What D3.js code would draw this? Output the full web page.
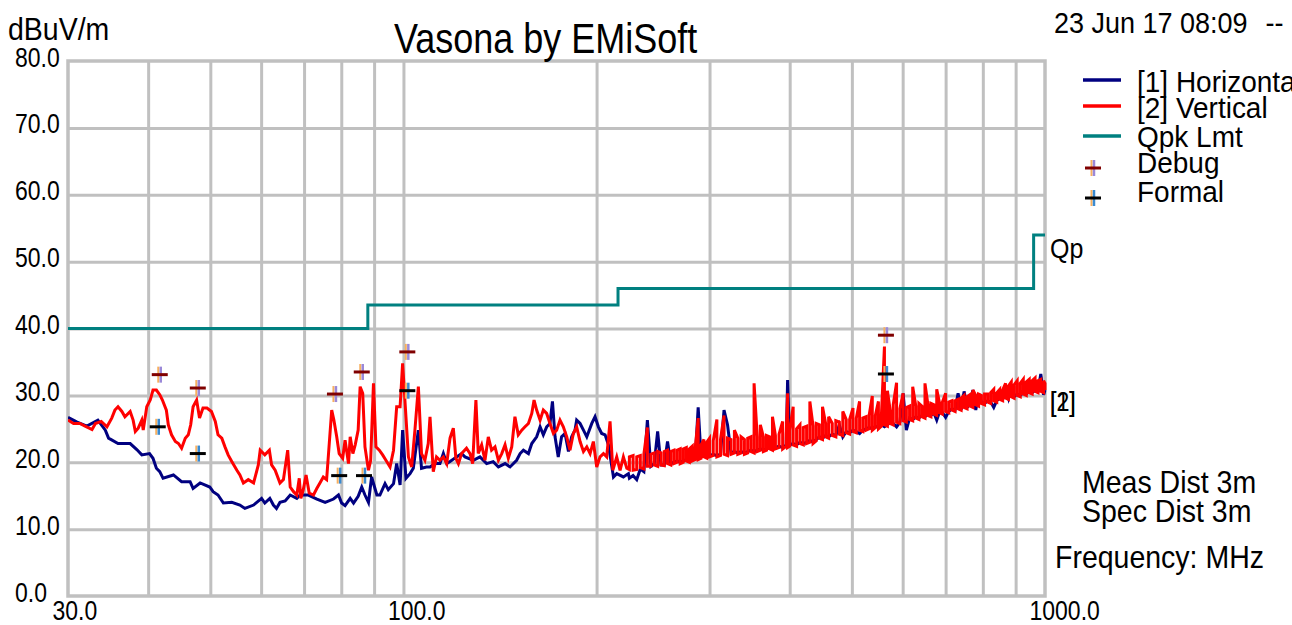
<!DOCTYPE html>
<html>
<head>
<meta charset="utf-8">
<script src="https://cdn.jsdelivr.net/npm/d3@7"></script>
<style>
  body { margin: 0; background: #fff; }
  svg text { font-family: "Liberation Sans", Arial, sans-serif; fill: #000; }
</style>
</head>
<body>
<svg id="chart" width="1292" height="625"></svg>
<script>
// ---- data (MHz, dBuV/m) ----
const xGridTicks = [40, 50, 60, 70, 80, 90, 100, 200, 300, 400, 500, 600, 700, 800, 900];
const xLabelTicks = [30, 100, 1000];
const yTicks = [0, 10, 20, 30, 40, 50, 60, 70, 80];

// FCC class B quasi-peak limit, step after each frequency
const limitSteps = [[30, 40], [88, 43.5], [216, 46], [960, 54], [1000, 54]];

// horizontal trace, 30 - 225 MHz
const horizLow = [
  [30,26.7],[31,26.0],[32.1,25.4],[33.4,26.3],[34.3,24.8],[34.7,23.6],[35.9,22.8],[37.5,22.8],[38.4,21.9],[39.1,21.1],
  [40.2,21.3],[40.7,20.6],[41.2,19.1],[41.7,18.6],[42.2,17.6],[43.8,18.1],[45.1,17.1],[46.5,17.1],[47.0,16.1],[48.2,16.9],
  [49.9,16.3],[50.5,15.6],[51.4,15.1],[52.4,13.9],[54.0,14.0],[55.6,13.6],[56.6,13.1],[58.4,13.6],[60.1,14.6],[60.8,13.9],
  [61.9,14.6],[62.7,13.6],[63.4,13.1],[64.2,14.0],[65.4,14.2],[66.6,15.1],[68.2,14.6],[69.0,15.1],[71.1,15.1],[73.3,14.5],
  [75.5,14.0],[77.8,14.5],[79.2,15.1],[80.1,13.9],[81.1,13.5],[82.6,14.6],[83.6,13.9],[85.0,14.9],[86.1,16.3],[87.1,15.1],
  [88.2,14.0],[89.2,17.8],[90.9,15.1],[91.9,15.1],[93.6,16.8],[94.7,15.9],[96.5,16.8],[97.6,19.8],
  [98.8,16.6],[99.7,24.8],[100.9,17.6],[102.4,18.3],[103.6,19.1],[105.5,24.8],[106.7,19.1],[108.6,19.3],[110.0,19.3],
  [112.0,19.8],[114.0,19.8],[115.4,21.3],[116.8,19.8],[118.2,20.1],[121.0,20.8],[123.2,21.3],[124.7,20.8],[128.5,20.3],
  [131.6,20.8],[134.8,19.8],[138.0,20.1],[140.6,19.3],[144.0,19.8],[146.6,19.3],[150.1,20.3],[152.0,21.3],[153.8,21.8],
  [156.6,21.3],[158.5,22.8],[161.3,23.8],[163.3,25.3],[165.2,24.1],[167.2,25.3],[169.2,25.8],[170.7,29.1],[172.3,23.8],
  [174.3,20.8],[176.4,23.8],[178.6,24.3],[180.8,21.6],[182.9,23.8],[185.1,24.8],[186.2,26.3],[188.5,25.8],[190.8,24.8],
  [193.1,23.8],[196.6,25.8],[198.9,26.8],[201.3,25.3],[203.7,24.3],[206.2,24.1],[208.7,22.6],[212.5,17.8],[215.0,18.3],
  [220.2,17.8],[224.2,18.3]
];

// vertical trace, 30 - 225 MHz
const vertLow = [
  [30,26.3],[30.6,25.8],[31.3,25.8],[31.9,25.4],[32.7,24.9],[33.1,25.8],[33.8,26.1],[34.5,25.3],[35.1,26.6],[35.5,27.8],
  [35.9,28.3],[36.4,27.6],[36.8,26.8],[37.5,27.6],[37.9,26.3],[38.2,24.6],[38.6,25.1],[39.1,26.3],[39.3,24.8],[39.8,28.3],
  [40.3,29.3],[40.7,30.8],[41.2,30.8],[41.7,30.1],[42.1,29.3],[42.7,27.8],[43.0,25.6],[43.5,24.1],[44.1,23.1],[44.6,22.8],
  [45.1,22.1],[45.7,23.6],[46.2,24.1],[46.6,25.6],[47.0,28.3],[47.6,29.3],[48.1,26.6],[48.7,28.1],[49.4,28.1],[50.2,27.6],
  [50.9,26.1],[51.4,24.1],[52.1,23.6],[52.7,22.3],[53.3,21.1],[54.0,20.1],[55.0,18.8],[55.6,18.1],[56.3,16.9],[57.3,17.4],
  [58.4,16.9],[59.4,19.6],[59.8,21.8],[60.8,21.1],[61.8,21.8],[62.3,19.6],[63.1,18.8],[64.2,16.9],[65.0,17.4],[66.0,21.8],
  [66.6,16.3],[67.4,15.6],[68.2,15.1],[68.8,17.6],[69.2,14.6],[69.8,15.9],[70.5,18.1],[71.3,15.4],[72.4,15.1],[73.3,16.1],
  [74.1,16.9],[75.0,17.8],[75.9,17.4],[77.3,27.8],[77.9,26.3],[78.7,23.8],[79.4,21.3],[80.4,20.6],[81.1,23.3],[82.1,19.8],
  [82.6,23.8],[83.4,21.3],[84.1,22.6],[85.0,24.8],[85.6,31.3],[86.4,30.3],[87.1,22.3],[88.2,18.8],[88.9,20.3],[89.8,31.8],
  [90.6,22.3],[91.7,21.8],[92.8,21.1],[93.9,20.3],[95.3,19.3],[96.5,21.8],[97.6,28.3],
  [98.8,28.3],[99.7,34.8],[100.9,26.8],[101.8,20.8],[103.0,19.3],[104.2,24.8],[105.5,31.3],[106.7,21.3],[108.0,20.3],
  [109.3,22.8],[110.0,26.8],[111.3,18.6],[112.6,20.8],[114.0,20.3],[115.4,20.8],[116.8,19.8],[118.2,23.6],[119.6,25.1],
  [120.7,20.6],[121.8,19.8],[123.2,21.3],[125.4,22.1],[127.0,21.3],[128.2,19.8],[129.7,29.3],[130.8,21.3],[132.4,22.6],
  [134.0,20.3],[135.6,23.8],[137.2,21.8],[138.9,22.3],[140.6,20.3],[142.3,21.3],[144.0,22.6],[145.7,20.6],[147.5,22.3],
  [149.2,26.8],[151.0,24.1],[152.9,24.8],[154.7,25.3],[156.6,25.8],[158.5,27.3],[159.8,29.3],[161.3,27.8],[163.3,26.3],
  [165.2,27.8],[167.2,27.3],[169.2,25.8],[171.3,24.3],[173.3,24.8],[175.4,26.3],[177.5,25.3],[179.7,23.8],[181.8,21.8],
  [184.0,24.3],[186.2,25.3],[188.5,23.1],[190.8,21.6],[193.1,22.3],[195.4,21.3],[197.7,23.1],[200.1,19.3],[202.5,20.8],
  [205.0,21.3],[207.4,20.8],[209.9,26.1],[212.0,18.8],[215.0,20.8],[217.6,18.8],[220.2,20.8],[222.9,19.1]
];

// dense sweep 225 - 1000 MHz, shared frequencies
const sweepFreq = [
  225,228,231,234,237,240,243,246,249,252,255,258,261,264,267,270,273,276,279,282,
  285,288,291,294,297,300,304,308,312,316,320,324,328,332,336,340,344,348,352,356,
  360,364,368,372,376,380,385,390,395,397,400,405,410,415,420,425,430,435,440,445,
  450,455,460,466,472,478,484,490,496,502,508,514,520,526,532,538,544,550,556,562,
  568,574,580,587,594,601,608,615,622,629,636,643,650,657,664,671,678,685,692,700,
  708,716,724,732,740,748,756,764,772,780,788,796,805,814,823,832,841,850,859,868,
  877,886,895,905,915,925,935,945,955,965,975,985,995,1000
];
// vertical trace: bottom and top of the drawn band at each sweep point
const vertSweepLo = [
  18.9,18.8,18.9,19.2,19.0,19.4,19.4,19.6,19.4,19.6,19.5,19.8,19.6,19.8,20.0,19.8,20.0,20.2,20.0,20.2,
  20.4,20.4,20.6,20.8,20.6,20.8,21.0,20.8,21.0,21.2,21.0,21.2,21.4,21.2,21.4,21.2,21.4,21.6,21.4,21.6,
  21.8,21.6,21.8,22.0,21.8,22.0,22.2,22.0,22.4,22.2,22.4,22.6,22.4,22.8,22.6,22.8,23.0,22.8,23.2,23.6,
  23.4,23.8,23.6,24.0,23.8,24.2,24.0,24.4,24.2,24.6,24.4,24.8,24.6,24.8,25.0,24.8,25.2,25.0,25.4,25.6,
  25.4,25.8,25.6,26.0,25.8,26.2,26.0,26.4,26.2,26.6,26.4,26.8,26.6,27.0,26.8,27.2,27.0,27.4,27.2,27.6,
  27.4,27.8,27.6,28.0,27.8,28.2,28.0,28.4,28.2,28.6,28.4,28.8,28.6,29.0,28.8,29.2,29.0,29.4,29.2,29.6,
  29.4,29.8,29.6,30.0,29.8,30.2,30.0,30.4,30.2,30.6,30.4,30.6,30.4,30.8
];
const vertSweepHi = [
  20.8,21.0,20.8,21.0,21.2,25.2,21.2,21.4,21.6,21.4,21.6,21.8,21.6,21.8,21.8,22.0,22.0,22.2,22.0,22.4,
  22.2,26.6,22.6,23.4,23.0,23.6,23.2,26.4,23.4,27.0,23.6,23.4,24.8,23.6,23.8,23.4,23.6,23.8,31.8,23.8,
  25.6,23.8,24.0,23.8,26.8,24.0,24.2,26.1,24.2,30.3,24.8,28.3,25.0,25.6,25.2,25.4,29.1,25.4,25.8,25.6,
  28.3,25.8,26.8,25.8,26.2,26.0,27.6,26.4,26.4,28.1,26.6,29.1,26.6,26.8,27.0,29.9,27.0,29.1,27.2,37.3,
  30.7,27.6,28.6,31.9,28.0,30.3,28.2,28.4,31.3,28.4,28.8,28.4,31.8,28.6,28.8,28.6,30.9,28.8,29.0,30.3,
  29.0,29.2,29.2,29.4,29.6,30.0,29.8,30.1,30.8,30.0,30.2,30.0,30.2,30.2,30.4,30.9,30.4,30.9,30.8,31.8,
  31.4,32.0,31.6,32.2,31.8,32.4,32.0,32.4,32.2,32.6,32.2,32.4,32.2,31.8
];
const horizSweep = [
  17.6,18.0,17.4,19.0,18.6,26.3,19.4,19.8,24.6,19.6,19.6,23.1,19.8,20.0,20.2,20.0,20.2,20.4,20.2,20.6,
  20.6,28.2,20.8,21.0,20.8,21.0,21.2,21.0,21.2,27.8,25.6,21.4,21.6,21.4,21.6,21.4,21.6,21.8,21.6,21.8,
  22.0,21.8,22.0,22.2,22.0,22.2,22.4,22.2,22.6,32.3,22.6,22.8,22.6,23.0,22.8,23.0,23.3,23.0,23.4,23.8,
  23.6,24.0,23.8,24.2,24.0,25.6,23.8,24.6,24.4,24.8,24.6,24.3,24.8,25.0,25.2,25.0,25.4,25.2,25.6,25.3,
  25.6,26.0,25.8,25.3,26.0,30.3,24.8,26.6,26.4,26.8,26.6,27.0,26.8,27.2,27.0,27.4,26.3,27.6,27.4,26.7,
  27.6,28.0,27.8,30.3,27.8,30.6,28.2,28.6,30.8,27.8,30.3,29.0,28.8,29.2,29.0,28.2,29.2,29.6,29.4,31.0,
  29.6,31.6,29.8,30.2,30.0,30.4,30.2,30.6,30.4,30.8,30.6,33.2,30.1,30.8
];

// marker points
const debugPts = [[41.7,33.1],[47.8,31.1],[78.2,30.2],[86.1,33.5],[101.4,36.5],[565,39.0]];
const formalPts = [[41.4,25.3],[47.8,21.3],[79.4,18.0],[86.8,18.0],[101.4,30.7],[565,33.2]];

const legendNames = ["[1] Horizontal", "[2] Vertical", "Qpk Lmt"];
const legendColors = ["#000080", "#ff0000", "#008080"];

// ---- layout ----
const svg = d3.select("#chart");
const m = { left: 68, top: 61, right: 1045, bottom: 596 };
const gridColor = "#c0c0c0";

const x = d3.scaleLog().domain([30, 1000]).range([m.left, m.right]);
const y = d3.scaleLinear().domain([0, 80]).range([m.bottom, m.top]);

function label(txt, tx, ty, size, sy) {
  return svg.append("text").text(txt).attr("font-size", size)
    .attr("transform", `translate(${tx},${ty}) scale(1,${sy})`);
}

// grid
svg.append("g").attr("transform", `translate(0,${m.bottom})`)
  .call(d3.axisBottom(x).tickValues(xGridTicks).tickSize(-(m.bottom - m.top)).tickFormat(""))
  .call(g => g.select(".domain").remove())
  .selectAll("line").attr("stroke", gridColor).attr("stroke-width", 3);

svg.append("g").attr("transform", `translate(${m.left},0)`)
  .call(d3.axisLeft(y).tickValues(yTicks.slice(1, -1)).tickSize(-(m.right - m.left)).tickFormat(""))
  .call(g => g.select(".domain").remove())
  .selectAll("line").attr("stroke", gridColor).attr("stroke-width", 3);

svg.append("rect")
  .attr("x", m.left).attr("y", m.top)
  .attr("width", m.right - m.left).attr("height", m.bottom - m.top)
  .attr("fill", "none").attr("stroke", gridColor).attr("stroke-width", 3.5);

// tick labels
svg.append("g").attr("transform", `translate(${m.left},0)`)
  .call(d3.axisLeft(y).tickValues(yTicks).tickFormat(d3.format(".1f")).tickSize(0))
  .call(g => g.select(".domain").remove())
  .selectAll("text")
  .attr("x", null).attr("dy", null).attr("text-anchor", "start").attr("font-size", 23)
  .attr("transform", "translate(-53,5) scale(1,1.2)");

svg.append("g").attr("transform", `translate(0,${m.bottom})`)
  .call(d3.axisBottom(x).tickValues(xLabelTicks).tickFormat(d3.format(".1f")).tickSize(0))
  .call(g => g.select(".domain").remove())
  .selectAll("text")
  .attr("y", null).attr("dy", null).attr("text-anchor", "start").attr("font-size", 23)
  .attr("transform", "translate(-16,24) scale(1,1.2)");

// traces
svg.append("clipPath").attr("id", "plotClip").append("rect")
  .attr("x", m.left).attr("y", m.top).attr("width", m.right - m.left + 2).attr("height", m.bottom - m.top);

const line = d3.line().x(d => x(d[0])).y(d => y(d[1]));
const plot = svg.append("g").attr("clip-path", "url(#plotClip)");

plot.append("path").datum(limitSteps)
  .attr("d", line.curve(d3.curveStepAfter))
  .attr("fill", "none").attr("stroke", "#008080").attr("stroke-width", 3);
line.curve(d3.curveLinear);

const horiz = horizLow.concat(d3.zip(sweepFreq, horizSweep));
// vertical sweep drawn as min/max strokes, alternating direction
const vertBand = [];
sweepFreq.forEach((f, i) => {
  const lo = [f, vertSweepLo[i]], hi = [f, vertSweepHi[i]];
  if (i % 2) vertBand.push(hi, lo); else vertBand.push(lo, hi);
});
const vert = vertLow.concat(vertBand);

plot.append("path").datum(horiz).attr("d", line)
  .attr("fill", "none").attr("stroke", "#000080").attr("stroke-width", 3);
plot.append("path").datum(vert).attr("d", line)
  .attr("fill", "none").attr("stroke", "#ff0000").attr("stroke-width", 3);

// "+" markers
function plus(g, px, py, hColor, vColor) {
  g.append("line").attr("x1", px - 1.5).attr("x2", px - 1.5).attr("y1", py - 8).attr("y2", py + 8)
    .attr("stroke", "#f7b060").attr("stroke-width", 2);
  g.append("line").attr("x1", px + 1).attr("x2", px + 1).attr("y1", py - 8).attr("y2", py + 8)
    .attr("stroke", vColor).attr("stroke-width", 2.5);
  g.append("line").attr("x1", px - 8).attr("x2", px + 8).attr("y1", py).attr("y2", py)
    .attr("stroke", hColor).attr("stroke-width", 3);
}
const marks = svg.append("g");
debugPts.forEach(d => plus(marks, x(d[0]), y(d[1]), "#800000", "#9a88d8"));
formalPts.forEach(d => plus(marks, x(d[0]), y(d[1]), "#000000", "#3a8ad0"));

// titles and annotations
label("Vasona by EMiSoft", 394, 53, 36, 1.17);
label("dBuV/m", 8, 40, 28.5, 1.12);
label("23 Jun 17 08:09", 1054, 33, 27, 1.1)
  .append("tspan").attr("dx", 18).text("--");

// legend
legendNames.forEach((name, i) => {
  const ly = [80, 106, 136][i];
  svg.append("line").attr("x1", 1083).attr("x2", 1121).attr("y1", ly).attr("y2", ly)
    .attr("stroke", legendColors[i]).attr("stroke-width", 3.5);
  label(name, 1137, [92, 118, 147][i], 28, 1.08);
});
plus(svg, 1093, 168, "#800000", "#9a88d8");
label("Debug", 1137, 173, 28, 1.08);
plus(svg, 1093, 198, "#000000", "#3a8ad0");
label("Formal", 1137, 202, 28, 1.08);

// right-edge labels
label("Qp", 1050, 258, 25, 1.07);
label("[1]", 1050, 411, 23, 1.2);
label("[2]", 1050, 411, 23, 1.2);

label("Meas Dist 3m", 1082, 493, 28.5, 1.07);
label("Spec Dist 3m", 1082, 522, 28.5, 1.07);
label("Frequency: MHz", 1055, 568, 28.5, 1.07);
</script>
</body>
</html>
